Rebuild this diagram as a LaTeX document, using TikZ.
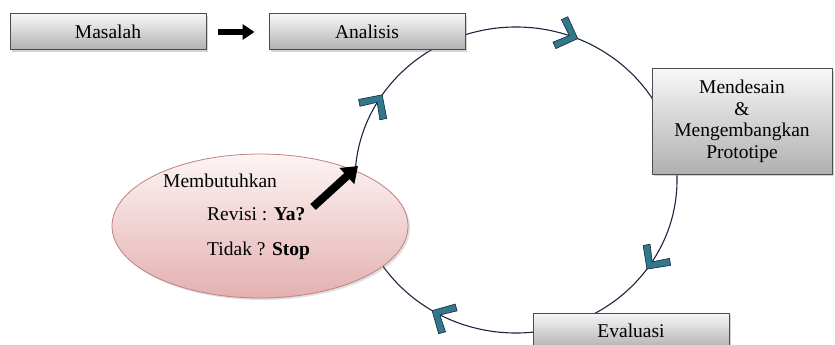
\documentclass[tikz,border=0pt]{standalone}
\usepackage{fontspec}
\setmainfont{LiberationSerif}[Extension=.ttf, UprightFont=*-Regular, BoldFont=*-Bold, ItalicFont=*-Italic, BoldItalicFont=*-BoldItalic]
\usetikzlibrary{arrows.meta,decorations.markings,shadows,shapes.geometric}
\definecolor{chevfill}{RGB}{49,120,138}
\definecolor{loopline}{RGB}{28,36,64}
\definecolor{pinktop}{RGB}{253,244,244}
\definecolor{pinkbottom}{RGB}{228,176,176}
\definecolor{pinkline}{RGB}{190,130,130}
% one chevron on the loop, tip at the mark
\newcommand{\chevtip}{\filldraw[fill=chevfill, draw=loopline, line width=0.6pt] (3,0) -- (-14,17) -- (-19,12) -- (-6,0) -- (-19,-12) -- (-14,-17) -- cycle;}

\begin{document}
\begin{tikzpicture}[x=1pt,y=-1pt,
		every node/.style={font=\fontsize{19.5}{21.5}\selectfont},
		stage/.style={draw=gray!60!black, line width=1pt, top color=gray!6, bottom color=gray!62,
			inner sep=0pt, drop shadow={shadow xshift=2pt, shadow yshift=-2pt, opacity=0.35}},
		fatarrow/.style={line width=6pt, -{Triangle[length=12pt,width=15pt]}},
		loop/.style={draw=loopline, line width=1.1pt, postaction=decorate,
			decoration={markings,
				mark=at position 0.094 with {\chevtip},
				mark=at position 0.336 with {\chevtip},
				mark=at position 0.589 with {\chevtip},
				mark=at position 0.811 with {\chevtip}}}]
		\useasboundingbox (0,0) rectangle (835,345);
		\clip (0,0) rectangle (835,345);

		% the cycle, drawn first so the boxes sit on it
		\coordinate (centre) at (516,180);
		\path[loop] (centre) ellipse [x radius=161, y radius=153];

		\node[stage, minimum width=196pt, minimum height=36pt] (masalah) at (108,32) {Masalah};
		\node[stage, minimum width=196pt, minimum height=36pt] (analisis) at (367,32) {Analisis};
		\node[stage, minimum width=180pt, minimum height=105pt, align=center] (desain) at (742,121.5)
			{Mendesain\\\&\\Mengembangkan\\Prototipe};
		\node[stage, minimum width=196pt, minimum height=36pt] (evaluasi) at (631,331) {Evaluasi};

		% question bubble
		\node[ellipse, draw=pinkline, line width=0.8pt, top color=pinktop, bottom color=pinkbottom,
			minimum width=296pt, minimum height=144pt, inner sep=0pt,
			drop shadow={shadow xshift=2pt, shadow yshift=-2pt, opacity=0.25}] (revisi) at (260,226) {};
		\node[anchor=base west, inner sep=0pt] (butuh) at (163,187) {Membutuhkan};
		\node[anchor=base west, inner sep=0pt] (ya) at (207,220) {Revisi : \textbf{Ya?}};
		\node[anchor=base west, inner sep=0pt] (tidak) at (207,255) {Tidak ? \textbf{Stop}};

		\draw[fatarrow] (masalah) -- (analisis) [shorten <=11pt, shorten >=14pt];
		\coordinate (yastart) at (313,207);
		\coordinate (yaend) at (358,166);
		\draw[line width=8pt, -{Triangle[length=15pt,width=21pt]}] (yastart) -- (yaend);
	\end{tikzpicture}
\end{document}
